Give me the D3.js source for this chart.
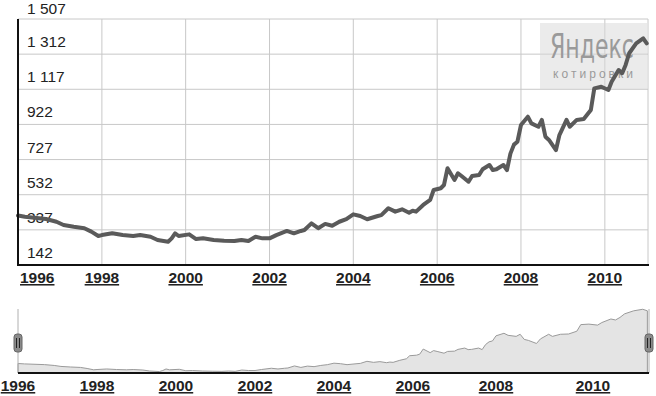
<!DOCTYPE html>
<html>
<head>
<meta charset="utf-8">
<script src="https://cdn.jsdelivr.net/npm/d3@7"></script>
<style>
  body { margin: 0; background: #fff; }
  svg { display: block; font-family: Arial, "Liberation Sans", sans-serif; }
</style>
</head>
<body>
<script>
// Series (month, price)
const months = [
  "1996-01","1996-03","1996-09","1996-12","1997-02","1997-05","1997-08","1997-10","1997-12",
  "1998-01","1998-04","1998-07","1998-10","1998-12","1999-03","1999-05","1999-08","1999-09",
  "1999-10","1999-11","2000-02","2000-04","2000-06","2000-09","2000-12","2001-03","2001-05",
  "2001-07","2001-09","2001-11","2002-01","2002-03","2002-06","2002-08","2002-10","2002-11",
  "2003-01","2003-03","2003-05","2003-07","2003-09","2003-11","2004-01","2004-03","2004-05",
  "2004-08","2004-09","2004-11","2005-01","2005-03","2005-05","2005-06","2005-07","2005-09",
  "2005-11","2005-12","2006-02","2006-03","2006-04","2006-06","2006-07","2006-08","2006-10",
  "2006-11","2007-01","2007-02","2007-04","2007-05","2007-06","2007-08","2007-09","2007-10",
  "2007-11","2007-12","2008-01","2008-03","2008-04","2008-06","2008-07","2008-08","2008-09",
  "2008-11","2008-12","2009-02","2009-03","2009-05","2009-07","2009-09","2009-10","2009-12",
  "2010-02","2010-03","2010-05","2010-06","2010-07","2010-08","2010-10","2010-12","2011-01"
];
const prices = [
  417, 410, 397, 382, 364, 354, 346, 327, 303,
  308, 318, 308, 303, 308, 299, 281, 271, 290,
  318, 303, 312, 286, 290, 281, 277, 275, 281,
  275, 299, 290, 290, 308, 331, 318, 331, 336,
  373, 346, 370, 360, 382, 396, 423, 414, 396,
  414, 419, 457, 438, 451, 432, 443, 438, 475,
  503, 558, 568, 586, 679, 614, 651, 636, 604,
  636, 641, 673, 697, 669, 673, 697, 669, 760,
  810, 826, 919, 965, 928, 909, 947, 854, 836,
  780, 863, 947, 909, 947, 952, 1002, 1122, 1131,
  1113, 1159, 1224, 1206, 1252, 1317, 1372, 1400, 1372
];
const yTicks = [142, 337, 532, 727, 922, 1117, 1312, 1507];
const yearTicks = [1996, 1998, 2000, 2002, 2004, 2006, 2008, 2010];

const parse = d3.timeParse("%Y-%m");
const data = months.map((m, i) => ({ date: parse(m), value: prices[i] }));

const W = 656, H = 396;
const svg = d3.select("body").append("svg").attr("width", W).attr("height", H);

// Main chart
const plot = { left: 18, right: 648, top: 19, bottom: 265 };
const x = d3.scaleTime()
  .domain([new Date(1996, 0, 1), new Date(2011, 0, 12)])
  .range([plot.left, plot.right]);
const y = d3.scaleLinear().domain([142, 1507]).range([plot.bottom, plot.top]);

// grid
svg.append("g").selectAll("line.h")
  .data(yTicks).enter().append("line")
  .attr("x1", plot.left).attr("x2", plot.right)
  .attr("y1", d => y(d)).attr("y2", d => y(d))
  .attr("stroke", "#c8c8c8").attr("stroke-width", 1);
svg.append("g").selectAll("line.v")
  .data(yearTicks.slice(1)).enter().append("line")
  .attr("x1", d => x(new Date(d, 0, 1))).attr("x2", d => x(new Date(d, 0, 1)))
  .attr("y1", plot.top).attr("y2", plot.bottom)
  .attr("stroke", "#c8c8c8").attr("stroke-width", 1);
svg.append("line")
  .attr("x1", plot.right).attr("x2", plot.right)
  .attr("y1", plot.top).attr("y2", plot.bottom)
  .attr("stroke", "#c8c8c8");

// watermark
const wm = svg.append("g");
wm.append("rect")
  .attr("x", 540).attr("y", 23).attr("width", 107).attr("height", 66)
  .attr("fill", "#d8d8d8").attr("opacity", 0.5);
wm.append("text")
  .attr("x", 550).attr("y", 58)
  .attr("font-family", "'Liberation Sans Narrow', 'DejaVu Sans Condensed', sans-serif")
  .attr("font-size", 34)
  .attr("textLength", 84).attr("lengthAdjust", "spacingAndGlyphs")
  .attr("fill", "#9a9a9a")
  .text("Яндекс");
wm.append("text")
  .attr("x", 553).attr("y", 78)
  .attr("font-size", 12)
  .attr("textLength", 80).attr("lengthAdjust", "spacing")
  .attr("fill", "#9a9a9a")
  .text("котировки");

// y labels
svg.append("g").selectAll("text")
  .data(yTicks).enter().append("text")
  .attr("x", 27).attr("y", d => Math.max(y(d) - 7, 14))
  .attr("font-size", 15.5).attr("fill", "#222")
  .text(d => d3.format(",")(d).replace(",", " "));

// line
svg.append("path")
  .datum(data)
  .attr("fill", "none")
  .attr("stroke", "#5a5a5a")
  .attr("stroke-width", 4)
  .attr("stroke-linejoin", "round")
  .attr("stroke-linecap", "round")
  .attr("d", d3.line().x(d => x(d.date)).y(d => y(d.value)));

// axes lines
svg.append("line").attr("x1", plot.left).attr("x2", plot.left)
  .attr("y1", plot.top).attr("y2", plot.bottom + 1)
  .attr("stroke", "#111").attr("stroke-width", 2);
svg.append("line").attr("x1", plot.left).attr("x2", plot.right + 1)
  .attr("y1", plot.bottom).attr("y2", plot.bottom)
  .attr("stroke", "#111").attr("stroke-width", 2);

// x labels
svg.append("g").selectAll("text")
  .data(yearTicks).enter().append("text")
  .attr("x", (d, i) => i === 0 ? x(new Date(d, 0, 1)) + 2 : x(new Date(d, 0, 1)))
  .attr("y", 283)
  .attr("text-anchor", (d, i) => i === 0 ? "start" : "middle")
  .attr("font-size", 15.5).attr("font-weight", "bold")
  .attr("text-decoration", "underline")
  .attr("fill", "#222")
  .text(d => d);

// Navigator
const nav = { left: 18, right: 649, top: 309, bottom: 373 };
const xn = d3.scaleTime()
  .domain([new Date(1996, 0, 1), new Date(2006, 0, 1), new Date(2008, 0, 1),
           new Date(2010, 0, 1), new Date(2011, 0, 12)])
  .range([18, 413, 496, 593, nav.right]);
const yn = d3.scaleLinear().domain([245, 1405]).range([nav.bottom, nav.top]);

svg.append("path")
  .datum(data)
  .attr("fill", "#e4e4e4")
  .attr("stroke", "#9a9a9a")
  .attr("stroke-width", 1)
  .attr("d", d3.area().x(d => xn(d.date)).y0(nav.bottom).y1(d => yn(d.value)));

[nav.left, nav.right].forEach(px => {
  svg.append("line").attr("x1", px).attr("x2", px)
    .attr("y1", nav.top).attr("y2", nav.bottom)
    .attr("stroke", "#b0b0b0").attr("stroke-width", 1);
  svg.append("rect")
    .attr("x", px - 4).attr("y", 334).attr("width", 8).attr("height", 18)
    .attr("rx", 3).attr("fill", "#8a8a8a").attr("stroke", "#666");
  [-1.5, 1.5].forEach(o => {
    svg.append("line").attr("x1", px + o).attr("x2", px + o)
      .attr("y1", 338).attr("y2", 348)
      .attr("stroke", "#222").attr("stroke-width", 1);
  });
});

svg.append("line").attr("x1", nav.left).attr("x2", nav.right)
  .attr("y1", nav.bottom).attr("y2", nav.bottom)
  .attr("stroke", "#111").attr("stroke-width", 2);

svg.append("g").selectAll("text")
  .data(yearTicks).enter().append("text")
  .attr("x", d => xn(new Date(d, 0, 1)))
  .attr("y", 391)
  .attr("text-anchor", "middle")
  .attr("font-size", 15.5).attr("font-weight", "bold")
  .attr("text-decoration", "underline")
  .attr("fill", "#222")
  .text(d => d);
</script>
</body>
</html>
